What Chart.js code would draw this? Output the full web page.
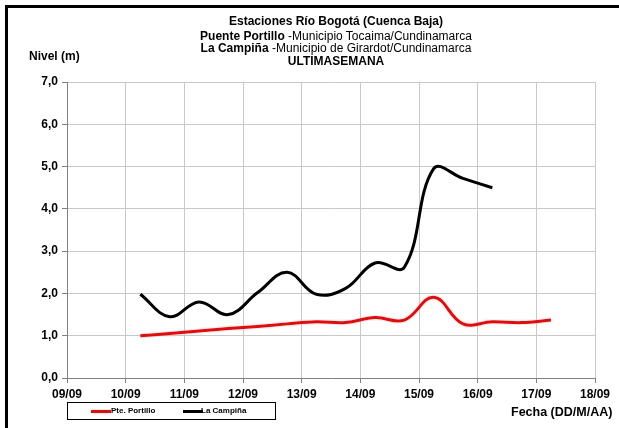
<!DOCTYPE html>
<html>
<head>
<meta charset="utf-8">
<script src="https://cdn.jsdelivr.net/npm/chart.js@4/dist/chart.umd.min.js"></script>
<style>
  body { margin: 0; background: #fff; font-family: 'Liberation Sans', Arial, sans-serif; }
  #wrap { position: relative; width: 619px; height: 428px; overflow: hidden; }
  #frame { position: absolute; left: 5px; top: 5px; width: 640px; height: 440px; border-left: 3px solid #000; border-top: 3px solid #000; }
  canvas { position: absolute; left: 0; top: 0; }
  .t { position: absolute; white-space: nowrap; color: #000; }
  #title { position: absolute; left: 136px; width: 400px; top: 15px; text-align: center; font-size: 12px; line-height: 12.5px; }
  #title b { font-weight: bold; }
  #legend { position: absolute; left: 67px; top: 402px; width: 207px; height: 16px; border: 1px solid #000; font-size: 8px; font-weight: bold; }
  .sw { position: absolute; top: 7px; width: 20px; height: 3px; }
  .lt { position: absolute; top: 3px; }
</style>
</head>
<body>
<div id="wrap">
  <canvas id="chart" width="619" height="428"></canvas>
  <div id="frame"></div>
  <div id="title">
    <div style="margin-bottom:2px"><b>Estaciones Río Bogotá (Cuenca Baja)</b></div>
    <div><b>Puente Portillo</b> -Municipio Tocaima/Cundinamarca</div>
    <div><b>La Campiña</b> -Municipio de Girardot/Cundinamarca</div>
    <div><b>ULTIMASEMANA</b></div>
  </div>
  <div class="t" style="left:29px; top:49px; font-size:12px; font-weight:bold;">Nivel (m)</div>
  <div class="t" style="left:511px; top:405px; font-size:12.5px; font-weight:bold;">Fecha (DD/M/AA)</div>
  <div id="legend">
    <div class="sw" style="left:23px; background:#ff0000;"></div>
    <div class="lt" style="left:43px;">Pte. Portillo</div>
    <div class="sw" style="left:115px; background:#000;"></div>
    <div class="lt" style="left:133px;">La Campiña</div>
  </div>
</div>
<script>
// days (x = day of September), read every 12 h from the picture
const portilloDays = [10.25, 10.75, 11.25, 11.75, 12.25, 12.75, 13.25, 13.75, 14.25, 14.75, 15.25, 15.75, 16.25, 16.75, 17.25];
const portilloNivel = [1.00, 1.05, 1.11, 1.17, 1.22, 1.28, 1.33, 1.31, 1.43, 1.37, 1.91, 1.28, 1.33, 1.31, 1.37];

const campinaDays = [10.25, 10.75, 11.25, 11.75, 12.25, 12.75, 13.25, 13.75, 14.25, 14.75, 15.25, 15.75, 16.25];
const campinaNivel = [1.98, 1.45, 1.80, 1.50, 2.02, 2.50, 1.98, 2.12, 2.72, 2.62, 4.95, 4.72, 4.50];

const xTickLabels = ['09/09', '10/09', '11/09', '12/09', '13/09', '14/09', '15/09', '16/09', '17/09', '18/09'];
const yTickLabels = ['0,0', '1,0', '2,0', '3,0', '4,0', '5,0', '6,0', '7,0'];

const toPoints = (xs, ys) => xs.map((x, i) => ({ x: x, y: ys[i] }));

const tickFont = { family: "'Liberation Sans', Arial, sans-serif", size: 12, weight: 'bold' };

new Chart(document.getElementById('chart'), {
  type: 'line',
  data: {
    datasets: [
      {
        label: 'Pte. Portillo',
        data: toPoints(portilloDays, portilloNivel),
        borderColor: '#ff0000',
        borderWidth: 3,
        pointRadius: 0,
        tension: 0.4
      },
      {
        label: 'La Campiña',
        data: toPoints(campinaDays, campinaNivel),
        borderColor: '#000000',
        borderWidth: 3,
        pointRadius: 0,
        tension: 0.4
      }
    ]
  },
  options: {
    responsive: false,
    animation: false,
    layout: { padding: { left: 0, right: 24, top: 82, bottom: 0 } },
    plugins: {
      legend: { display: false },
      title: { display: false },
      tooltip: { enabled: false }
    },
    scales: {
      x: {
        type: 'linear',
        min: 9,
        max: 18,
        afterFit: s => { s.height = 50; },
        ticks: {
          stepSize: 1,
          padding: 4,
          color: '#000',
          font: tickFont,
          maxRotation: 0,
          callback: v => xTickLabels[v - 9]
        },
        grid: { color: '#c8c8c8', tickColor: '#808080', tickLength: 5, lineWidth: 1 },
        border: { color: '#808080', width: 1 }
      },
      y: {
        min: 0,
        max: 7,
        afterFit: s => { s.width = 67; },
        ticks: {
          stepSize: 1,
          padding: 4,
          color: '#000',
          font: tickFont,
          callback: v => yTickLabels[v]
        },
        grid: { color: '#c8c8c8', tickColor: '#808080', tickLength: 5, lineWidth: 1 },
        border: { color: '#808080', width: 1 }
      }
    }
  }
});
</script>
</body>
</html>
